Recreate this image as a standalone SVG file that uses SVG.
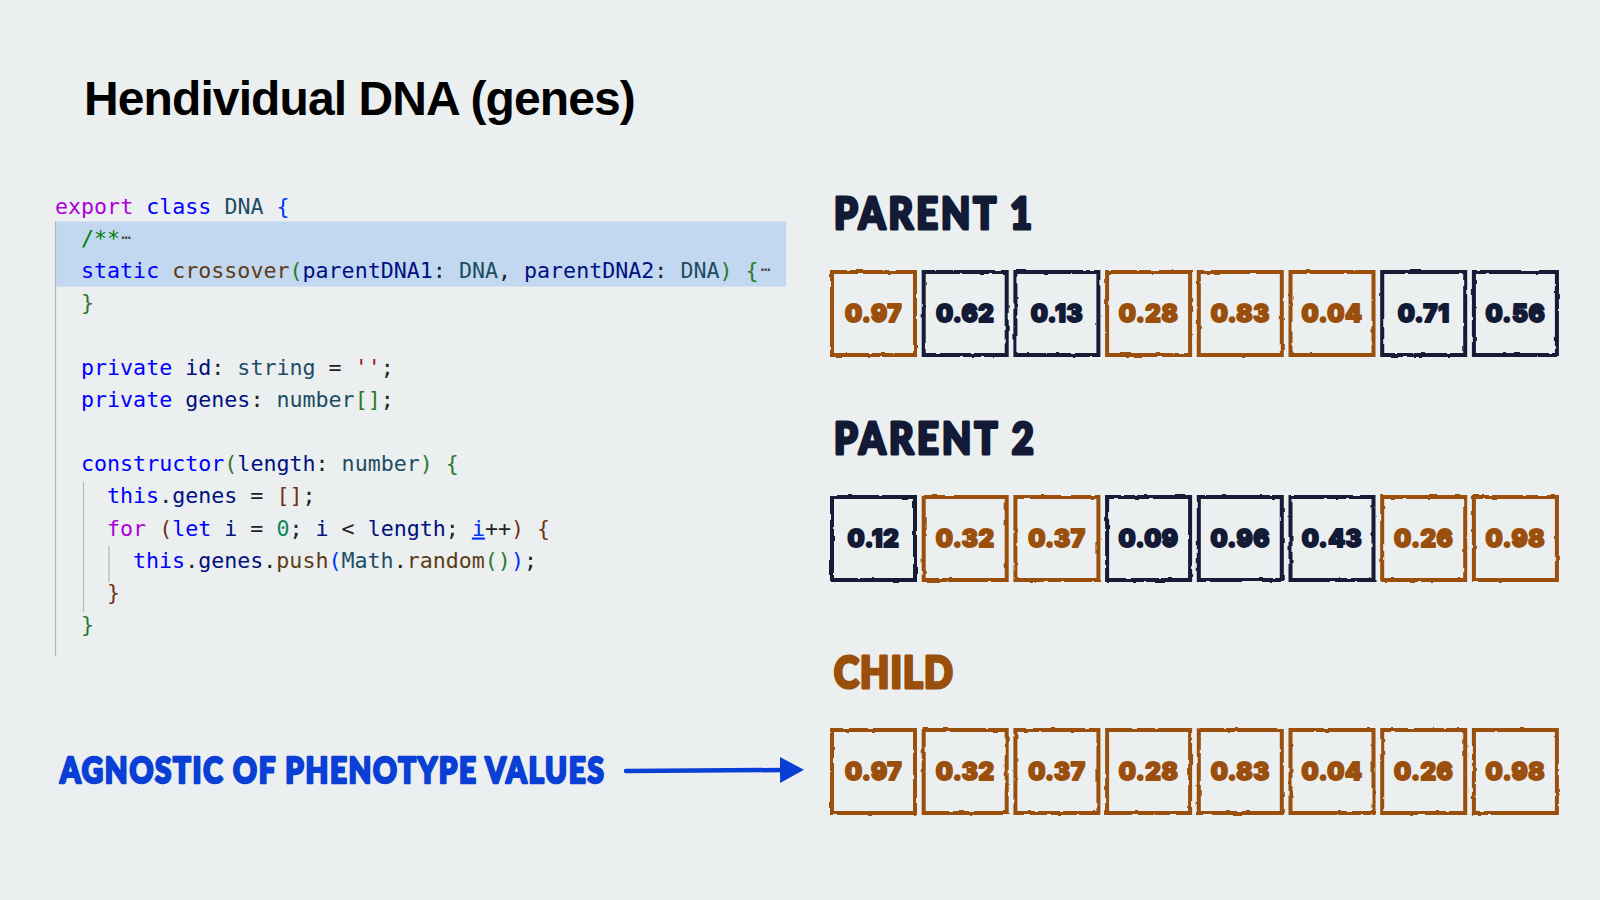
<svg xmlns="http://www.w3.org/2000/svg" width="1600" height="900" viewBox="0 0 1600 900">
<style>
.title{font-family:"Liberation Sans",Arial,sans-serif;font-weight:bold;font-size:48px;letter-spacing:-0.9px;fill:#000}
.code{font-family:"DejaVu Sans Mono","Liberation Mono",monospace;font-size:21.65px;fill:#222}
.kw{fill:#0000ff}.ctl{fill:#af00db}.ty{fill:#1d4d62}.id{fill:#001080}.fn{fill:#5e3d16}.str{fill:#a31515}.num{fill:#098658}.cm{fill:#008000}
.b1{fill:#0431fa}.b2{fill:#2b7a2b}.b3{fill:#6e3415}.dots{fill:#444;font-size:17px}
.hand{font-family:Inter,Lato,"DejaVu Sans",sans-serif;font-weight:900;stroke-linejoin:round;paint-order:stroke}
.hand2{font-family:Lato,"DejaVu Sans",sans-serif;font-weight:900;stroke-linejoin:round;paint-order:stroke}
.lbl{font-size:43px;stroke-width:3.2px}
.navyT{fill:#131a35;stroke:#131a35}
.brownT{fill:#9b4f0d;stroke:#9b4f0d}
.blueT{fill:#0a3fd6;stroke:#0a3fd6}
.val{font-size:24px;stroke-width:1.8px;text-anchor:middle;letter-spacing:0.6px}
.box{fill:none;stroke-width:4px;filter:url(#rough)}
.navy{stroke:#131a35}.brown{stroke:#9b4f0d}
.guide{stroke:#b8b8b8;stroke-width:1.2px}
</style>
<defs>
<filter id="rough" x="-10%" y="-10%" width="120%" height="120%">
<feTurbulence type="fractalNoise" baseFrequency="0.09" numOctaves="2" seed="4"/>
<feDisplacementMap in="SourceGraphic" scale="2.6" xChannelSelector="R" yChannelSelector="G"/>
</filter>
<marker id="arrowhead" markerUnits="userSpaceOnUse" markerWidth="26" markerHeight="28" refX="2" refY="14" orient="auto">
<path d="M0,1 L24,14 L0,27 Z" fill="#0a3fd6"/>
</marker>
</defs>
<rect width="1600" height="900" fill="#ebeff0"/>
<text class="title" x="84" y="115">Hendividual DNA (genes)</text>

<g id="code">
<rect x="55" y="221.5" width="731" height="65" fill="#c2d7f0"/>
<line class="guide" x1="55.5" y1="221" x2="55.5" y2="656" stroke="#9a9a9a"/>
<line class="guide" x1="83.5" y1="482" x2="83.5" y2="612"/>
<line class="guide" x1="109" y1="546" x2="109" y2="582"/>
<text class="code" x="55" y="213.5"><tspan class="ctl">export</tspan> <tspan class="kw">class</tspan> <tspan class="ty">DNA</tspan> <tspan class="b1">{</tspan></text>
<text class="code" x="81" y="245.7"><tspan class="cm">/**</tspan><tspan class="dots" dx="1" dy="-3">⋯</tspan></text>
<text class="code" x="81" y="277.9"><tspan class="kw">static</tspan> <tspan class="fn">crossover</tspan><tspan class="b2">(</tspan><tspan class="id">parentDNA1</tspan>: <tspan class="ty">DNA</tspan>, <tspan class="id">parentDNA2</tspan>: <tspan class="ty">DNA</tspan><tspan class="b2">)</tspan> <tspan class="b2">{</tspan><tspan class="dots" dx="2" dy="-3">⋯</tspan></text>
<text class="code" x="81" y="310.1"><tspan class="b2">}</tspan></text>
<text class="code" x="81" y="374.5"><tspan class="kw">private</tspan> <tspan class="id">id</tspan>: <tspan class="ty">string</tspan> = <tspan class="str">''</tspan>;</text>
<text class="code" x="81" y="406.7"><tspan class="kw">private</tspan> <tspan class="id">genes</tspan>: <tspan class="ty">number</tspan><tspan class="b2">[]</tspan>;</text>
<text class="code" x="81" y="471.1"><tspan class="kw">constructor</tspan><tspan class="b2">(</tspan><tspan class="id">length</tspan>: <tspan class="ty">number</tspan><tspan class="b2">)</tspan> <tspan class="b2">{</tspan></text>
<text class="code" x="107" y="503.3"><tspan class="kw">this</tspan>.<tspan class="id">genes</tspan> = <tspan class="b3">[]</tspan>;</text>
<text class="code" x="107" y="535.5"><tspan class="ctl">for</tspan> <tspan class="b3">(</tspan><tspan class="kw">let</tspan> <tspan class="id">i</tspan> = <tspan class="num">0</tspan>; <tspan class="id">i</tspan> &lt; <tspan class="id">length</tspan>; <tspan class="id" text-decoration="underline" style="fill:#0431fa">i</tspan>++<tspan class="b3">)</tspan> <tspan class="b3">{</tspan></text>
<text class="code" x="133" y="567.7"><tspan class="kw">this</tspan>.<tspan class="id">genes</tspan>.<tspan class="fn">push</tspan><tspan class="b1">(</tspan><tspan class="ty">Math</tspan>.<tspan class="fn">random</tspan><tspan class="b2">()</tspan><tspan class="b1">)</tspan>;</text>
<text class="code" x="107" y="599.9"><tspan class="b3">}</tspan></text>
<text class="code" x="81" y="632.1"><tspan class="b2">}</tspan></text>
</g>

<g id="label-parent1" transform="translate(834,229) scale(0.88,1)"><text class="hand2 lbl navyT" x="0" y="0" textLength="225" lengthAdjust="spacing">PARENT 1</text></g>
<g id="label-parent2" transform="translate(834,454) scale(0.88,1)"><text class="hand2 lbl navyT" x="0" y="0" textLength="227" lengthAdjust="spacing">PARENT 2</text></g>
<g id="label-child" transform="translate(834,688) scale(0.88,1)"><text class="hand2 lbl brownT" x="0" y="0" textLength="135" lengthAdjust="spacing">CHILD</text></g>
<g id="label-agnostic" transform="translate(60,783) scale(0.82,1)"><text class="hand2 blueT" style="font-size:36px;stroke-width:2.6px" x="0" y="0" textLength="663" lengthAdjust="spacing">AGNOSTIC OF PHENOTYPE VALUES</text></g>

<g id="parent1">
<g id="p1-0"><rect class="box brown" x="832" y="272" width="83" height="83"/><text class="hand val brownT" x="873.5" y="322">0.97</text></g>
<g id="p1-1"><rect class="box navy" x="923.7" y="272" width="83" height="83"/><text class="hand val navyT" x="965.2" y="322">0.62</text></g>
<g id="p1-2"><rect class="box navy" x="1015.4" y="272" width="83" height="83"/><text class="hand val navyT" x="1056.9" y="322">0.13</text></g>
<g id="p1-3"><rect class="box brown" x="1107.1" y="272" width="83" height="83"/><text class="hand val brownT" x="1148.6" y="322">0.28</text></g>
<g id="p1-4"><rect class="box brown" x="1198.8" y="272" width="83" height="83"/><text class="hand val brownT" x="1240.3" y="322">0.83</text></g>
<g id="p1-5"><rect class="box brown" x="1290.5" y="272" width="83" height="83"/><text class="hand val brownT" x="1332" y="322">0.04</text></g>
<g id="p1-6"><rect class="box navy" x="1382.2" y="272" width="83" height="83"/><text class="hand val navyT" x="1423.7" y="322">0.71</text></g>
<g id="p1-7"><rect class="box navy" x="1473.9" y="272" width="83" height="83"/><text class="hand val navyT" x="1515.4" y="322">0.56</text></g>
</g>

<g id="parent2">
<g id="p2-0"><rect class="box navy" x="832" y="497" width="83" height="83"/><text class="hand val navyT" x="873.5" y="547">0.12</text></g>
<g id="p2-1"><rect class="box brown" x="923.7" y="497" width="83" height="83"/><text class="hand val brownT" x="965.2" y="547">0.32</text></g>
<g id="p2-2"><rect class="box brown" x="1015.4" y="497" width="83" height="83"/><text class="hand val brownT" x="1056.9" y="547">0.37</text></g>
<g id="p2-3"><rect class="box navy" x="1107.1" y="497" width="83" height="83"/><text class="hand val navyT" x="1148.6" y="547">0.09</text></g>
<g id="p2-4"><rect class="box navy" x="1198.8" y="497" width="83" height="83"/><text class="hand val navyT" x="1240.3" y="547">0.96</text></g>
<g id="p2-5"><rect class="box navy" x="1290.5" y="497" width="83" height="83"/><text class="hand val navyT" x="1332" y="547">0.43</text></g>
<g id="p2-6"><rect class="box brown" x="1382.2" y="497" width="83" height="83"/><text class="hand val brownT" x="1423.7" y="547">0.26</text></g>
<g id="p2-7"><rect class="box brown" x="1473.9" y="497" width="83" height="83"/><text class="hand val brownT" x="1515.4" y="547">0.98</text></g>
</g>

<g id="child">
<g id="c-0"><rect class="box brown" x="832" y="730" width="83" height="83"/><text class="hand val brownT" x="873.5" y="780">0.97</text></g>
<g id="c-1"><rect class="box brown" x="923.7" y="730" width="83" height="83"/><text class="hand val brownT" x="965.2" y="780">0.32</text></g>
<g id="c-2"><rect class="box brown" x="1015.4" y="730" width="83" height="83"/><text class="hand val brownT" x="1056.9" y="780">0.37</text></g>
<g id="c-3"><rect class="box brown" x="1107.1" y="730" width="83" height="83"/><text class="hand val brownT" x="1148.6" y="780">0.28</text></g>
<g id="c-4"><rect class="box brown" x="1198.8" y="730" width="83" height="83"/><text class="hand val brownT" x="1240.3" y="780">0.83</text></g>
<g id="c-5"><rect class="box brown" x="1290.5" y="730" width="83" height="83"/><text class="hand val brownT" x="1332" y="780">0.04</text></g>
<g id="c-6"><rect class="box brown" x="1382.2" y="730" width="83" height="83"/><text class="hand val brownT" x="1423.7" y="780">0.26</text></g>
<g id="c-7"><rect class="box brown" x="1473.9" y="730" width="83" height="83"/><text class="hand val brownT" x="1515.4" y="780">0.98</text></g>
</g>

<g id="connectors">
<path d="M626,771 L782,770" fill="none" stroke="#0a3fd6" stroke-width="4.5" stroke-linecap="round" marker-end="url(#arrowhead)"/>
</g>
</svg>
